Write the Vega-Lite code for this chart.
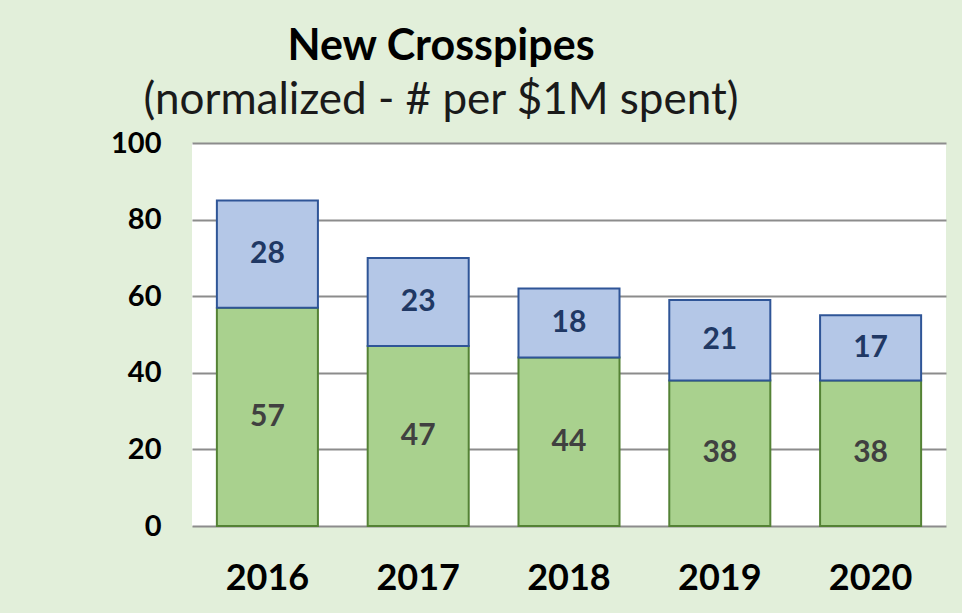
{
  "$schema": "https://vega.github.io/schema/vega-lite/v6.json",
  "autosize": {"type": "none"},
  "width": 754,
  "height": 383,
  "padding": {"left": 192, "top": 143, "right": 16, "bottom": 87},
  "background": "#e2efda",
  "title": {
    "text": "New Crosspipes",
    "subtitle": "(normalized - # per $1M spent)",
    "anchor": "middle",
    "frame": "group",
    "dx": -128,
    "offset": 6,
    "font": "Lato",
    "fontSize": 43,
    "fontWeight": "bold",
    "color": "#000000",
    "subtitleFont": "Lato",
    "subtitleFontSize": 44,
    "subtitleColor": "#1a1a1a",
    "subtitlePadding": 10
  },
  "data": {
    "values": [
      {"year": "2016", "series": "lower", "value": 57},
      {"year": "2016", "series": "upper", "value": 28},
      {"year": "2017", "series": "lower", "value": 47},
      {"year": "2017", "series": "upper", "value": 23},
      {"year": "2018", "series": "lower", "value": 44},
      {"year": "2018", "series": "upper", "value": 18},
      {"year": "2019", "series": "lower", "value": 38},
      {"year": "2019", "series": "upper", "value": 21},
      {"year": "2020", "series": "lower", "value": 38},
      {"year": "2020", "series": "upper", "value": 17}
    ]
  },
  "encoding": {
    "x": {
      "field": "year",
      "type": "nominal",
      "scale": {"paddingInner": 0.33, "paddingOuter": 0.165},
      "axis": {
        "title": null,
        "labelAngle": 0,
        "domain": false,
        "ticks": false,
        "labelPadding": 35,
        "labelFont": "Lato",
        "labelFontSize": 36,
        "labelFontWeight": "bold",
        "labelColor": "#000000"
      }
    },
    "y": {
      "field": "value",
      "type": "quantitative",
      "stack": "zero",
      "scale": {"domain": [0, 100]},
      "axis": {
        "title": null,
        "values": [0, 20, 40, 60, 80, 100],
        "domain": false,
        "ticks": false,
        "grid": true,
        "gridColor": "#8c8c8c",
        "gridWidth": 2,
        "labelPadding": 31,
        "labelFont": "Lato",
        "labelFontSize": 29,
        "labelFontWeight": "bold",
        "labelColor": "#000000"
      }
    },
    "order": {"field": "series", "sort": "ascending"}
  },
  "layer": [
    {
      "mark": {"type": "bar", "strokeWidth": 2},
      "encoding": {
        "fill": {
          "field": "series",
          "scale": {"domain": ["lower", "upper"], "range": ["#a9d18e", "#b4c7e7"]},
          "legend": null
        },
        "stroke": {
          "field": "series",
          "scale": {"domain": ["lower", "upper"], "range": ["#548235", "#2f5597"]},
          "legend": null
        }
      }
    },
    {
      "mark": {"type": "text", "font": "Lato", "fontSize": 30, "fontWeight": "bold", "baseline": "middle"},
      "encoding": {
        "y": {"field": "value", "type": "quantitative", "stack": "zero", "bandPosition": 0.5},
        "detail": {"field": "series"},
        "text": {"field": "value", "type": "quantitative"},
        "color": {
          "condition": {"test": "datum.series === 'upper'", "value": "#203864"},
          "value": "#404040"
        }
      }
    }
  ],
  "config": {
    "view": {"fill": "#ffffff", "stroke": null}
  }
}
